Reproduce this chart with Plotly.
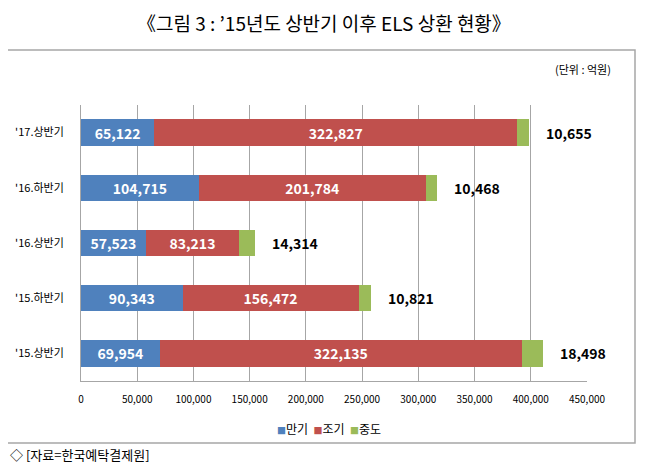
import plotly.graph_objects as go

categories = ["'15.상반기", "'15.하반기", "'16.상반기", "'16.하반기", "'17.상반기"]
maturity = [69954, 90343, 57523, 104715, 65122]      # 만기
early = [322135, 156472, 83213, 201784, 322827]      # 조기
midway = [18498, 10821, 14314, 10468, 10655]         # 중도
series_names = ["만기", "조기", "중도"]
colors = ["#4F81BD", "#C0504D", "#9BBB59"]
x_ticks = [0, 50000, 100000, 150000, 200000, 250000, 300000, 350000, 400000, 450000]

FONT = "Noto Sans CJK KR"
OFF = 8  # page body margin
W, H = 647 - OFF, 469 - OFF
# plot area in screen pixels
SX0, SX1, SY0, SY1 = 81, 587, 105, 381
L, R = SX0 - OFF, W - (SX1 - OFF)
T, B = SY0 - OFF, H - (SY1 - OFF)
pw, ph = W - L - R, H - T - B

def px(x):
    return (x - SX0) / pw

def py(y):
    return (SY1 - y) / ph

fig = go.Figure()
for name, vals, col, lab in zip(series_names, [maturity, early, midway], colors, [True, True, False]):
    fig.add_trace(go.Bar(
        y=categories, x=vals, name=name, orientation="h",
        marker=dict(color=col, line=dict(width=0)),
        text=[f"{v:,}" for v in vals] if lab else None,
        textposition="inside" if lab else "none",
        insidetextanchor="middle",
        textfont=dict(family=FONT, size=14, color="white", weight="bold"),
        hoverinfo="skip", showlegend=False,
    ))

totals = [a + b + c for a, b, c in zip(maturity, early, midway)]
for cat, tot, v in zip(categories, totals, midway):
    fig.add_annotation(x=tot, y=cat, text=f"{v:,}", showarrow=False,
                       xanchor="left", xshift=15,
                       font=dict(family=FONT, size=14, color="black", weight="bold"))

fig.add_shape(type="rect", xref="paper", yref="paper",
              x0=px(6), x1=px(635), y0=py(443), y1=py(50),
              line=dict(color="#A6A6A6", width=1.5), fillcolor="rgba(0,0,0,0)", layer="below")

fig.add_annotation(xref="paper", yref="paper", x=px(324), y=py(22), xanchor="center", yanchor="middle",
                   text="《그림 3 : ’15년도 상반기 이후 ELS 상환 현황》", showarrow=False,
                   font=dict(family=FONT, size=19, color="black"))
fig.add_annotation(xref="paper", yref="paper", x=px(613), y=py(69), xanchor="right", yanchor="middle",
                   text="(단위 : 억원)", showarrow=False,
                   font=dict(family=FONT, size=11, color="black"))
fig.add_annotation(xref="paper", yref="paper", x=px(OFF), y=py(454), xanchor="left", yanchor="middle",
                   text="◇ [자료=한국예탁결제원]", showarrow=False,
                   font=dict(family=FONT, size=13, color="black"))

legend_text = "  ".join(
    f"<span style='color:{c};font-size:9px'>■</span>{n}" for n, c in zip(series_names, colors)
)
fig.add_annotation(xref="paper", yref="paper", x=px(329), y=py(428), xanchor="center", yanchor="middle",
                   text=legend_text, showarrow=False,
                   font=dict(family=FONT, size=12, color="black"))

fig.update_layout(
    width=W, height=H,
    margin=dict(l=L, r=R, t=T, b=B),
    barmode="stack", bargap=0.52,
    paper_bgcolor="white", plot_bgcolor="white",
    font=dict(family=FONT, size=11, color="black"),
    showlegend=False,
    xaxis=dict(range=[0, 450000], tickvals=x_ticks, ticktext=[f"{t:,}" for t in x_ticks],
               showgrid=True, gridcolor="#A6A6A6", gridwidth=1,
               showline=True, linecolor="#A6A6A6", zeroline=False, automargin=False,
               tickfont=dict(family=FONT, size=10), ticks="", ticklabelstandoff=9),
    yaxis=dict(showline=True, linecolor="#A6A6A6", showgrid=False, automargin=False,
               tickfont=dict(family=FONT, size=11), ticks="", ticklabelstandoff=14),
)

fig.write_html("out.html")
